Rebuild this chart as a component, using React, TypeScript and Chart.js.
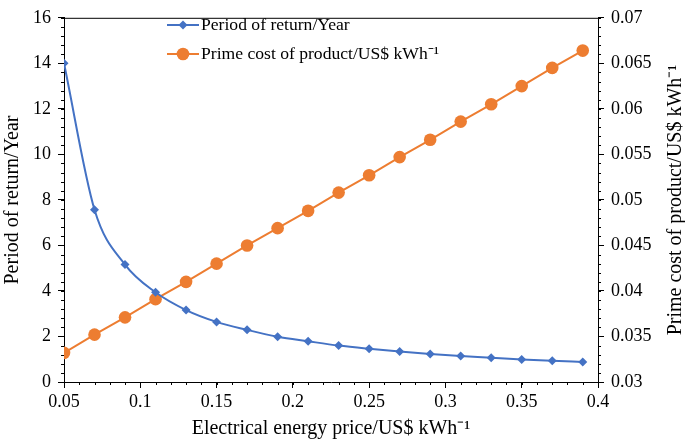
import React, { useEffect, useRef } from "react";
import { Chart, registerables } from "chart.js";

Chart.register(...registerables);

const prices = [0.05, 0.07, 0.09, 0.11, 0.13, 0.15, 0.17, 0.19, 0.21, 0.23, 0.25, 0.27, 0.29, 0.31, 0.33, 0.35, 0.37, 0.39];
const returnPeriod = [14.0, 7.57, 5.16, 3.94, 3.16, 2.64, 2.29, 1.99, 1.79, 1.6, 1.46, 1.34, 1.23, 1.14, 1.07, 0.99, 0.93, 0.88];
const primeCost = [0.0332, 0.0352, 0.0371, 0.0391, 0.041, 0.043, 0.045, 0.0469, 0.0488, 0.0508, 0.0527, 0.0547, 0.0566, 0.0586, 0.0605, 0.0625, 0.0645, 0.0664];

const xTicks = [0.05, 0.1, 0.15, 0.2, 0.25, 0.3, 0.35, 0.4];
const yLeftTicks = [0, 2, 4, 6, 8, 10, 12, 14, 16];
const yRightTicks = [0.03, 0.035, 0.04, 0.045, 0.05, 0.055, 0.06, 0.065, 0.07];

const seriesNames = ["Period of return/Year", "Prime cost of product/US$ kWh⁻¹"];
const xTitle = "Electrical energy price/US$ kWh⁻¹";
const yLeftTitle = "Period of return/Year";
const yRightTitle = "Prime cost of product/US$ kWh⁻¹";

const BLUE = "#4472C4";
const ORANGE = "#ED7D31";
const FONT = "'Liberation Serif', 'Times New Roman', serif";

const fmt = (v: number) => String(Number(v.toFixed(4)));

const decorPlugin = {
  id: "decor",
  afterDraw(chart: any) {
    const ctx = chart.ctx;
    const { left, right, top, bottom } = chart.chartArea;
    const xs = chart.scales.x;
    const yl = chart.scales.y;
    const yr = chart.scales.y1;
    ctx.save();
    ctx.strokeStyle = "#000";
    ctx.lineWidth = 1;
    // top frame line
    ctx.beginPath();
    ctx.moveTo(left, top + 0.5);
    ctx.lineTo(right, top + 0.5);
    ctx.stroke();
    // minor ticks
    ctx.beginPath();
    for (let i = 0; i <= 35; i++) {
      const v = 0.05 + i * 0.01;
      const px = Math.round(xs.getPixelForValue(v)) + 0.5;
      ctx.moveTo(px, bottom);
      ctx.lineTo(px, bottom + 3);
    }
    for (let i = 0; i <= 40; i++) {
      const v = i * 0.4;
      const py = Math.round(yl.getPixelForValue(v)) + 0.5;
      ctx.moveTo(left, py);
      ctx.lineTo(left - 3, py);
    }
    for (let i = 0; i <= 40; i++) {
      const v = 0.03 + i * 0.001;
      const py = Math.round(yr.getPixelForValue(v)) + 0.5;
      ctx.moveTo(right, py);
      ctx.lineTo(right + 3, py);
    }
    ctx.stroke();

    // axis titles
    ctx.fillStyle = "#000";
    ctx.font = `20px ${FONT}`;
    ctx.textAlign = "center";
    ctx.textBaseline = "middle";
    ctx.fillText(xTitle, (left + right) / 2, 429);
    ctx.save();
    ctx.translate(13, 200);
    ctx.rotate(-Math.PI / 2);
    ctx.fillText(yLeftTitle, 0, 0);
    ctx.restore();
    ctx.save();
    ctx.translate(676, 200);
    ctx.rotate(-Math.PI / 2);
    ctx.fillText(yRightTitle, 0, 0);
    ctx.restore();

    // legend
    const items = [
      { name: seriesNames[0], color: BLUE, y: 25, shape: "diamond" },
      { name: seriesNames[1], color: ORANGE, y: 54, shape: "circle" },
    ];
    ctx.font = `17.6px ${FONT}`;
    ctx.textAlign = "left";
    items.forEach((it) => {
      ctx.strokeStyle = it.color;
      ctx.fillStyle = it.color;
      ctx.lineWidth = 2;
      ctx.beginPath();
      ctx.moveTo(167, it.y);
      ctx.lineTo(199, it.y);
      ctx.stroke();
      ctx.beginPath();
      if (it.shape === "diamond") {
        ctx.moveTo(183, it.y - 4.5);
        ctx.lineTo(187.5, it.y);
        ctx.lineTo(183, it.y + 4.5);
        ctx.lineTo(178.5, it.y);
        ctx.closePath();
      } else {
        ctx.arc(183, it.y, 6.3, 0, Math.PI * 2);
      }
      ctx.fill();
      ctx.fillStyle = "#000";
      ctx.fillText(it.name, 201, it.y);
    });
    ctx.restore();
  },
};

export default function App() {
  const ref = useRef<HTMLCanvasElement>(null);
  useEffect(() => {
    document.body.style.margin = "0";
    const canvas = ref.current!;
    const chart = new Chart(canvas, {
      type: "line",
      data: {
        datasets: [
          {
            label: seriesNames[0],
            data: prices.map((x, i) => ({ x, y: returnPeriod[i] })),
            borderColor: BLUE,
            backgroundColor: BLUE,
            borderWidth: 2,
            pointStyle: "rectRot",
            pointRadius: 4.5,
            pointBorderWidth: 0,
            tension: 0.4,
            cubicInterpolationMode: "monotone",
            yAxisID: "y",
          },
          {
            label: seriesNames[1],
            data: prices.map((x, i) => ({ x, y: primeCost[i] })),
            borderColor: ORANGE,
            backgroundColor: ORANGE,
            borderWidth: 2,
            pointStyle: "circle",
            pointRadius: 6.3,
            pointBorderWidth: 0,
            tension: 0,
            yAxisID: "y1",
          },
        ],
      },
      options: {
        animation: false,
        responsive: false,
        maintainAspectRatio: false,
        layout: { padding: { top: 12, left: 0, right: 0, bottom: 0 } },
        plugins: { legend: { display: false }, tooltip: { enabled: false } },
        scales: {
          x: {
            type: "linear",
            min: 0.05,
            max: 0.4,
            afterBuildTicks: (s: any) => { s.ticks = xTicks.map((v) => ({ value: v })); },
            afterFit: (s: any) => { s.height = 59; },
            ticks: { color: "#000", font: { family: FONT, size: 18 }, padding: 3, maxRotation: 0, autoSkip: false, callback: (v: any) => fmt(v) },
            grid: { drawOnChartArea: false, color: "#000", tickLength: 6, tickColor: "#000" },
            border: { color: "#000", width: 1 },
          },
          y: {
            type: "linear",
            position: "left",
            min: 0,
            max: 16,
            afterBuildTicks: (s: any) => { s.ticks = yLeftTicks.map((v) => ({ value: v })); },
            afterFit: (s: any) => { s.width = 64; },
            ticks: { color: "#000", font: { family: FONT, size: 18 }, padding: 7, callback: (v: any) => fmt(v) },
            grid: { drawOnChartArea: false, color: "#000", tickLength: 6, tickColor: "#000" },
            border: { color: "#000", width: 1 },
          },
          y1: {
            type: "linear",
            position: "right",
            min: 0.03,
            max: 0.07,
            afterBuildTicks: (s: any) => { s.ticks = yRightTicks.map((v) => ({ value: v })); },
            afterFit: (s: any) => { s.width = 87; },
            ticks: { color: "#000", font: { family: FONT, size: 18 }, padding: 7, callback: (v: any) => fmt(v) },
            grid: { drawOnChartArea: false, color: "#000", tickLength: 6, tickColor: "#000" },
            border: { color: "#000", width: 1 },
          },
        },
      },
      plugins: [decorPlugin],
    } as any);
    return () => chart.destroy();
  }, []);
  return (
    <div style={{ width: 685, height: 441 }}>
      <canvas ref={ref} width={685} height={441} style={{ display: "block", width: 685, height: 441 }} />
    </div>
  );
}
